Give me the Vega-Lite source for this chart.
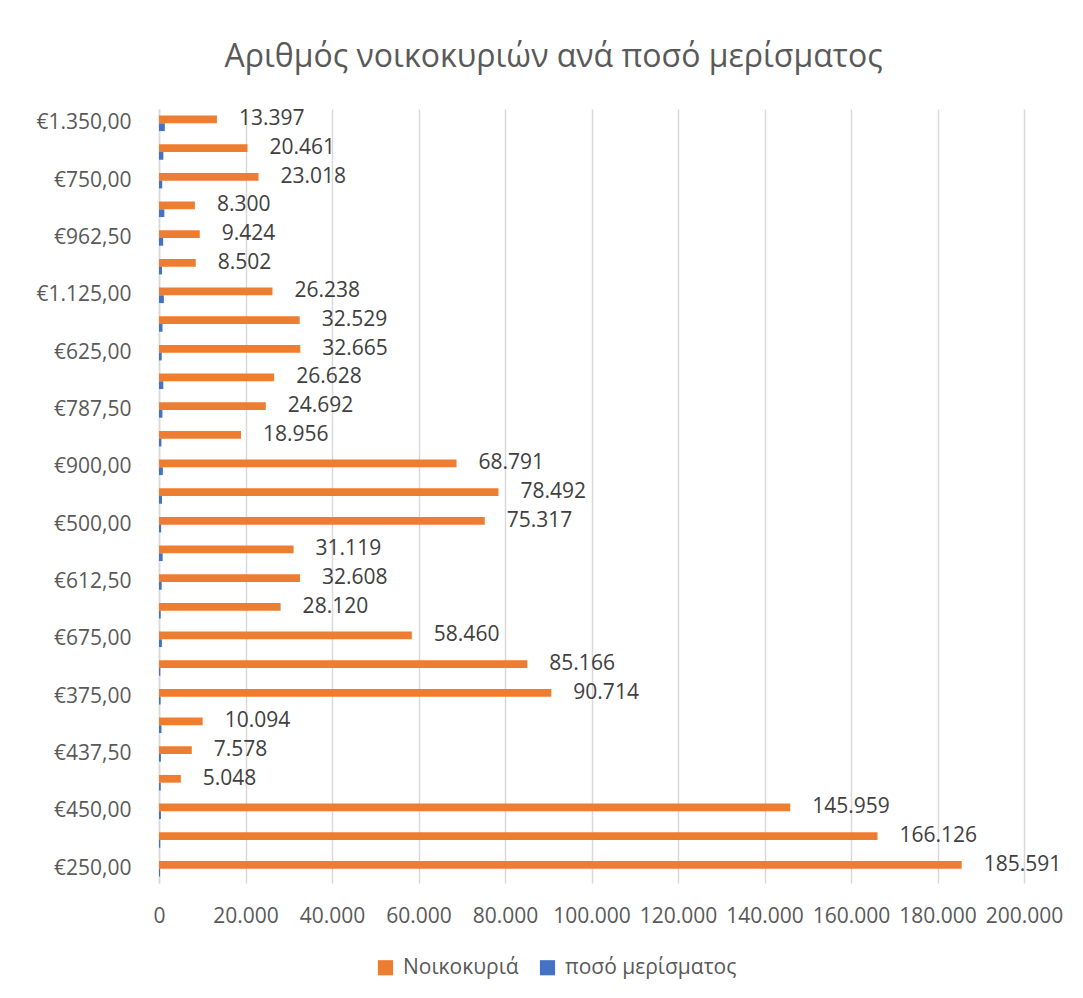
{
  "$schema": "https://vega.github.io/schema/vega-lite/v6.json",
  "autosize": "none",
  "width": 865,
  "height": 774,
  "padding": {"left": 159, "top": 109, "right": 59, "bottom": 115},
  "background": "white",
  "config": {
    "locale": {"number": {"decimal": ",", "thousands": ".", "grouping": [3], "currency": ["€", ""]}},
    "font": "Open Sans",
    "view": {"stroke": null}
  },
  "title": {
    "text": "Αριθμός νοικοκυριών ανά ποσό μερίσματος",
    "fontSize": 32,
    "font": "Open Sans",
    "fontWeight": "normal",
    "color": "#595959",
    "anchor": "middle",
    "frame": "group",
    "dx": -38,
    "offset": 34
  },
  "data": {
    "values": [
      {"amount": "€1.350,00", "series": "Νοικοκυριά", "value": 13397},
      {"amount": "€1.350,00", "series": "ποσό μερίσματος", "value": 1350},
      {"amount": "€1.012,50", "series": "Νοικοκυριά", "value": 20461},
      {"amount": "€1.012,50", "series": "ποσό μερίσματος", "value": 1012.5},
      {"amount": "€750,00", "series": "Νοικοκυριά", "value": 23018},
      {"amount": "€750,00", "series": "ποσό μερίσματος", "value": 750},
      {"amount": "€1.237,50", "series": "Νοικοκυριά", "value": 8300},
      {"amount": "€1.237,50", "series": "ποσό μερίσματος", "value": 1237.5},
      {"amount": "€962,50", "series": "Νοικοκυριά", "value": 9424},
      {"amount": "€962,50", "series": "ποσό μερίσματος", "value": 962.5},
      {"amount": "€700,00", "series": "Νοικοκυριά", "value": 8502},
      {"amount": "€700,00", "series": "ποσό μερίσματος", "value": 700},
      {"amount": "€1.125,00", "series": "Νοικοκυριά", "value": 26238},
      {"amount": "€1.125,00", "series": "ποσό μερίσματος", "value": 1125},
      {"amount": "€812,50", "series": "Νοικοκυριά", "value": 32529},
      {"amount": "€812,50", "series": "ποσό μερίσματος", "value": 812.5},
      {"amount": "€625,00", "series": "Νοικοκυριά", "value": 32665},
      {"amount": "€625,00", "series": "ποσό μερίσματος", "value": 625},
      {"amount": "€1.000,00", "series": "Νοικοκυριά", "value": 26628},
      {"amount": "€1.000,00", "series": "ποσό μερίσματος", "value": 1000},
      {"amount": "€787,50", "series": "Νοικοκυριά", "value": 24692},
      {"amount": "€787,50", "series": "ποσό μερίσματος", "value": 787.5},
      {"amount": "€562,50", "series": "Νοικοκυριά", "value": 18956},
      {"amount": "€562,50", "series": "ποσό μερίσματος", "value": 562.5},
      {"amount": "€900,00", "series": "Νοικοκυριά", "value": 68791},
      {"amount": "€900,00", "series": "ποσό μερίσματος", "value": 900},
      {"amount": "€687,50", "series": "Νοικοκυριά", "value": 78492},
      {"amount": "€687,50", "series": "ποσό μερίσματος", "value": 687.5},
      {"amount": "€500,00", "series": "Νοικοκυριά", "value": 75317},
      {"amount": "€500,00", "series": "ποσό μερίσματος", "value": 500},
      {"amount": "€850,00", "series": "Νοικοκυριά", "value": 31119},
      {"amount": "€850,00", "series": "ποσό μερίσματος", "value": 850},
      {"amount": "€612,50", "series": "Νοικοκυριά", "value": 32608},
      {"amount": "€612,50", "series": "ποσό μερίσματος", "value": 612.5},
      {"amount": "€400,00", "series": "Νοικοκυριά", "value": 28120},
      {"amount": "€400,00", "series": "ποσό μερίσματος", "value": 400},
      {"amount": "€675,00", "series": "Νοικοκυριά", "value": 58460},
      {"amount": "€675,00", "series": "ποσό μερίσματος", "value": 675},
      {"amount": "€312,50", "series": "Νοικοκυριά", "value": 85166},
      {"amount": "€312,50", "series": "ποσό μερίσματος", "value": 312.5},
      {"amount": "€375,00", "series": "Νοικοκυριά", "value": 90714},
      {"amount": "€375,00", "series": "ποσό μερίσματος", "value": 375},
      {"amount": "€575,00", "series": "Νοικοκυριά", "value": 10094},
      {"amount": "€575,00", "series": "ποσό μερίσματος", "value": 575},
      {"amount": "€437,50", "series": "Νοικοκυριά", "value": 7578},
      {"amount": "€437,50", "series": "ποσό μερίσματος", "value": 437.5},
      {"amount": "€412,50", "series": "Νοικοκυριά", "value": 5048},
      {"amount": "€412,50", "series": "ποσό μερίσματος", "value": 412.5},
      {"amount": "€450,00", "series": "Νοικοκυριά", "value": 145959},
      {"amount": "€450,00", "series": "ποσό μερίσματος", "value": 450},
      {"amount": "€300,00", "series": "Νοικοκυριά", "value": 166126},
      {"amount": "€300,00", "series": "ποσό μερίσματος", "value": 300},
      {"amount": "€250,00", "series": "Νοικοκυριά", "value": 185591},
      {"amount": "€250,00", "series": "ποσό μερίσματος", "value": 250}
    ]
  },
  "encoding": {
    "y": {
      "field": "amount",
      "type": "nominal",
      "sort": null,
      "scale": {"paddingInner": 0.46, "paddingOuter": 0.23},
      "axis": {
        "title": null,
        "values": ["€1.350,00", "€750,00", "€962,50", "€1.125,00", "€625,00", "€787,50", "€900,00", "€500,00", "€612,50", "€675,00", "€375,00", "€437,50", "€450,00", "€250,00"],
        "labelFontSize": 21,
        "labelColor": "#595959",
        "labelFont": "Open Sans",
        "labelPadding": 28,
        "labelLimit": 0,
        "ticks": false,
        "domainColor": "#d9d9d9",
        "domainWidth": 1.5,
        "grid": false
      }
    },
    "x": {
      "field": "value",
      "type": "quantitative",
      "scale": {"domain": [0, 200000], "nice": false},
      "axis": {
        "title": null,
        "values": [0, 20000, 40000, 60000, 80000, 100000, 120000, 140000, 160000, 180000, 200000],
        "format": ",d",
        "labelFontSize": 21,
        "labelColor": "#595959",
        "labelFont": "Open Sans",
        "labelPadding": 22,
        "labelOverlap": false,
        "labelBound": false,
        "labelFlush": false,
        "ticks": false,
        "domain": false,
        "grid": true,
        "gridColor": "#d9d9d9",
        "gridWidth": 1.5
      }
    }
  },
  "layer": [
    {
      "mark": {"type": "bar"},
      "encoding": {
        "yOffset": {"field": "series", "type": "nominal", "sort": ["Νοικοκυριά", "ποσό μερίσματος"], "scale": {"paddingInner": 0, "paddingOuter": 0}},
        "color": {
          "field": "series",
          "type": "nominal",
          "scale": {"domain": ["Νοικοκυριά", "ποσό μερίσματος"], "range": ["#ED7D31", "#4472C4"]},
          "legend": {
            "title": null,
            "orient": "none",
            "legendX": 216,
            "legendY": 848,
            "direction": "horizontal",
            "symbolType": "square",
            "symbolSize": 230,
            "symbolStrokeWidth": 0,
            "labelFontSize": 21,
            "labelFont": "Open Sans",
            "labelColor": "#595959",
            "labelOffset": 7,
            "labelLimit": 0,
            "columnPadding": 18
          }
        }
      }
    },
    {
      "transform": [{"filter": "datum.series === 'Νοικοκυριά'"}],
      "mark": {"type": "text", "align": "left", "baseline": "middle", "dx": 22, "dy": -4, "fontSize": 21, "font": "Open Sans", "color": "#404040"},
      "encoding": {
        "text": {"field": "value", "type": "quantitative", "format": ",d"}
      }
    }
  ]
}
